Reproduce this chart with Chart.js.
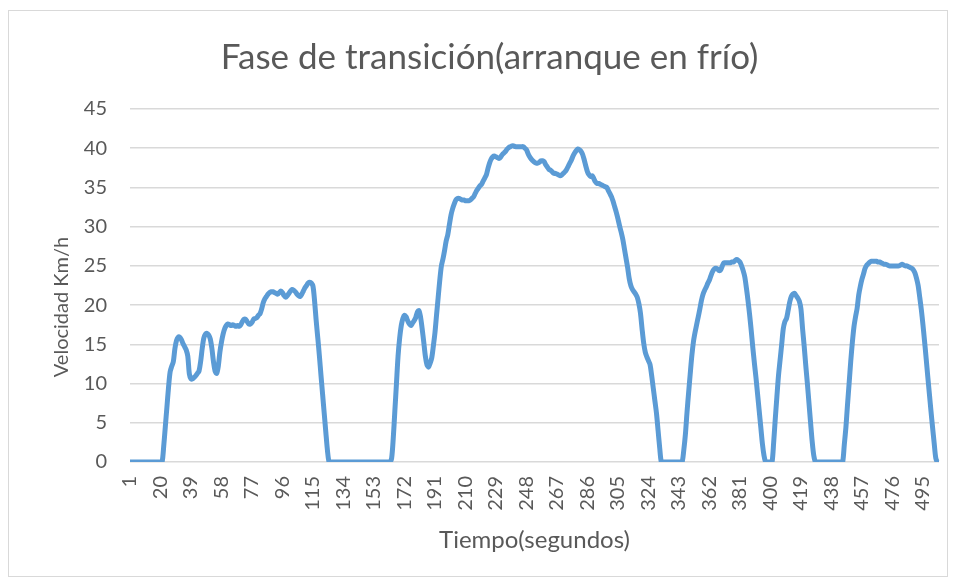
<!DOCTYPE html>
<html>
<head>
<meta charset="utf-8">
<script src="https://cdn.jsdelivr.net/npm/chart.js@4.4.1/dist/chart.umd.min.js"></script>
<style>
  html, body { margin: 0; padding: 0; background: #fff; }
  #wrap { width: 954px; height: 580px; position: relative; }
</style>
</head>
<body>
<div id="wrap"><canvas id="myChart" width="954" height="580"></canvas></div>
<script>
// Velocidad (km/h) leída segundo a segundo, t = 1..505
const speed = [
  0,0,0,0,0,0,0,0,0,0,
  0,0,0,0,0,0,0,0,0,0,
  0,2,4.5,7,9.5,11.5,12.2,12.8,14.5,15.5,
  15.9,15.9,15.6,15.1,14.7,14.3,13.5,11.2,10.6,10.6,
  10.8,11.0,11.3,11.6,12.8,14.5,15.8,16.3,16.4,16.2,
  15.7,14.5,12.8,11.6,11.3,12.2,14.0,15.3,16.3,17.0,
  17.4,17.6,17.5,17.4,17.5,17.4,17.3,17.4,17.3,17.5,
  17.9,18.2,18.2,17.9,17.6,17.6,17.8,18.2,18.3,18.4,
  18.7,18.9,19.5,20.3,20.8,21.1,21.4,21.6,21.7,21.7,
  21.6,21.5,21.4,21.6,21.8,21.6,21.2,21.0,21.2,21.5,
  21.8,22.0,21.9,21.7,21.4,21.2,21.1,21.4,21.8,22.2,
  22.5,22.8,22.9,22.8,22.4,20.5,18.0,15.8,13.5,11.0,
  8.6,6.2,3.8,1.5,0,0,0,0,0,0,
  0,0,0,0,0,0,0,0,0,0,
  0,0,0,0,0,0,0,0,0,0,
  0,0,0,0,0,0,0,0,0,0,
  0,0,0,0.5,3,6.5,10,13.5,15.8,17.4,
  18.3,18.7,18.5,18.0,17.6,17.4,17.7,18.0,18.4,19.1,
  19.3,18.5,17.0,15.3,13.5,12.4,12.1,12.6,13.3,14.8,
  16.5,18.8,21.0,23.2,25.0,25.9,27.0,28.2,29.0,30.3,
  31.5,32.3,32.9,33.4,33.6,33.6,33.5,33.4,33.4,33.3,
  33.3,33.3,33.4,33.6,33.8,34.2,34.6,34.9,35.2,35.4,
  35.8,36.2,36.6,37.4,38.1,38.6,38.9,39.0,38.9,38.8,
  38.7,38.9,39.2,39.4,39.6,39.9,40.1,40.2,40.3,40.3,
  40.2,40.2,40.2,40.2,40.2,40.2,40.0,39.8,39.3,38.9,
  38.6,38.4,38.2,38.1,38.1,38.2,38.4,38.4,38.3,37.9,
  37.6,37.3,37.2,37.0,36.8,36.8,36.7,36.6,36.5,36.6,
  36.8,37.0,37.3,37.7,38.1,38.5,39.0,39.4,39.7,39.9,
  39.8,39.6,39.2,38.5,37.7,37.0,36.6,36.4,36.5,36.1,
  35.7,35.5,35.5,35.4,35.3,35.2,35.1,35.0,34.6,34.2,
  33.8,33.2,32.5,31.8,31.0,30.1,29.3,28.4,27.2,26.0,
  24.8,23.4,22.5,22.0,21.7,21.4,21.0,20.2,19.0,17.0,
  15.2,14.0,13.4,12.9,12.4,11.0,9.4,7.8,6.2,4.0,
  1.8,0,0,0,0,0,0,0,0,0,
  0,0,0,0,0,1.5,3.5,6.3,8.8,11.2,
  13.5,15.3,16.5,17.5,18.5,19.5,20.6,21.4,21.9,22.3,
  22.8,23.2,23.8,24.3,24.6,24.7,24.6,24.4,24.5,25.0,
  25.4,25.4,25.4,25.4,25.4,25.5,25.5,25.7,25.8,25.7,
  25.5,25.0,24.4,23.6,22.2,20.6,18.8,16.8,14.6,12.6,
  10.7,8.6,6.5,4.4,2.3,0.8,0,0,0,0,
  0,2.5,5.5,8.3,11.0,13.0,15.0,17.0,17.9,18.3,
  19.3,20.4,21.1,21.4,21.5,21.2,20.9,20.5,19.5,17.0,
  14.8,12.3,10.0,7.5,5.0,2.6,0.8,0,0,0,
  0,0,0,0,0,0,0,0,0,0,
  0,0,0,0,0,2.2,4.4,7.3,10.0,12.8,
  15.2,17.2,18.5,19.6,21.3,22.4,23.3,24.0,24.7,25.1,
  25.3,25.5,25.6,25.6,25.6,25.6,25.5,25.5,25.4,25.3,
  25.2,25.2,25.1,25.0,25.0,25.0,25.0,25.0,25.0,25.0,
  25.1,25.2,25.1,25.0,25.0,24.9,24.8,24.7,24.5,24.1,
  23.4,22.5,21.0,19.4,17.5,15.4,13.2,10.9,8.7,6.5,
  4.4,2.4,0.5,0,0
];

// Tiempo en segundos (categorías) y paso de las etiquetas del eje X
const seconds = speed.map((v, i) => String(i + 1));
const labelStep = 19;

const yMin = 0;
const yMax = 45;
const yStep = 5;
const yTitle = 'Velocidad Km/h';

const textColor = '#595959';
const gridColor = '#d9d9d9';
const lineColor = '#5b9bd5';
const fontFamily = 'Lato, "Open Sans", sans-serif';

// Marco gris alrededor del gráfico y título del eje Y (Excel lo coloca algo más abajo)
const chartFrame = {
  id: 'chartFrame',
  beforeDraw(chart) {
    const c = chart.ctx;
    c.save();
    c.fillStyle = '#fff';
    c.fillRect(0, 0, chart.width, chart.height);
    c.strokeStyle = '#d9d9d9';
    c.lineWidth = 1;
    c.strokeRect(8.5, 10.5, 939, 566);
    c.restore();
  },
  afterDraw(chart) {
    const c = chart.ctx;
    c.save();
    c.translate(62, 307);
    c.rotate(-Math.PI / 2);
    c.textAlign = 'center';
    c.textBaseline = 'middle';
    c.fillStyle = textColor;
    c.font = '20px ' + fontFamily;
    c.fillText(yTitle, 0, 0);
    c.restore();
  }
};

const ctx = document.getElementById('myChart').getContext('2d');
new Chart(ctx, {
  type: 'line',
  data: {
    labels: seconds,
    datasets: [{
      label: 'Velocidad',
      data: speed,
      borderColor: lineColor,
      borderWidth: 5,
      pointRadius: 0,
      tension: 0.3,
      fill: false
    }]
  },
  options: {
    responsive: false,
    animation: false,
    layout: { padding: { left: 40, right: 15, top: 0, bottom: 0 } },
    plugins: {
      legend: { display: false },
      tooltip: { enabled: false },
      title: {
        display: true,
        text: 'Fase de transición(arranque en frío)',
        color: textColor,
        font: { family: fontFamily, size: 35, weight: 'normal' },
        padding: { top: 37, bottom: 30 }
      }
    },
    scales: {
      x: {
        grid: { display: false, drawTicks: false },
        border: { display: false },
        afterFit(scale) {
          scale.paddingLeft = 0;
          scale.paddingRight = 0;
          scale.height = 118;
        },
        ticks: {
          autoSkip: false,
          minRotation: 90,
          maxRotation: 90,
          color: textColor,
          font: { family: fontFamily, size: 20 },
          padding: 14,
          callback: function (val, index) {
            return index % labelStep === 0 ? this.getLabelForValue(val) : '';
          }
        },
        title: {
          display: true,
          text: 'Tiempo(segundos)',
          color: textColor,
          font: { family: fontFamily, size: 24 },
          padding: { top: 8, bottom: 25 }
        }
      },
      y: {
        min: yMin,
        max: yMax,
        afterFit(scale) {
          scale.width = 90;
        },
        ticks: {
          stepSize: yStep,
          color: textColor,
          font: { family: fontFamily, size: 20 },
          padding: 23
        },
        grid: { color: gridColor, lineWidth: 1.5, drawTicks: false },
        border: { display: false },
        title: { display: false }
      }
    }
  },
  plugins: [chartFrame]
});
</script>
</body>
</html>
